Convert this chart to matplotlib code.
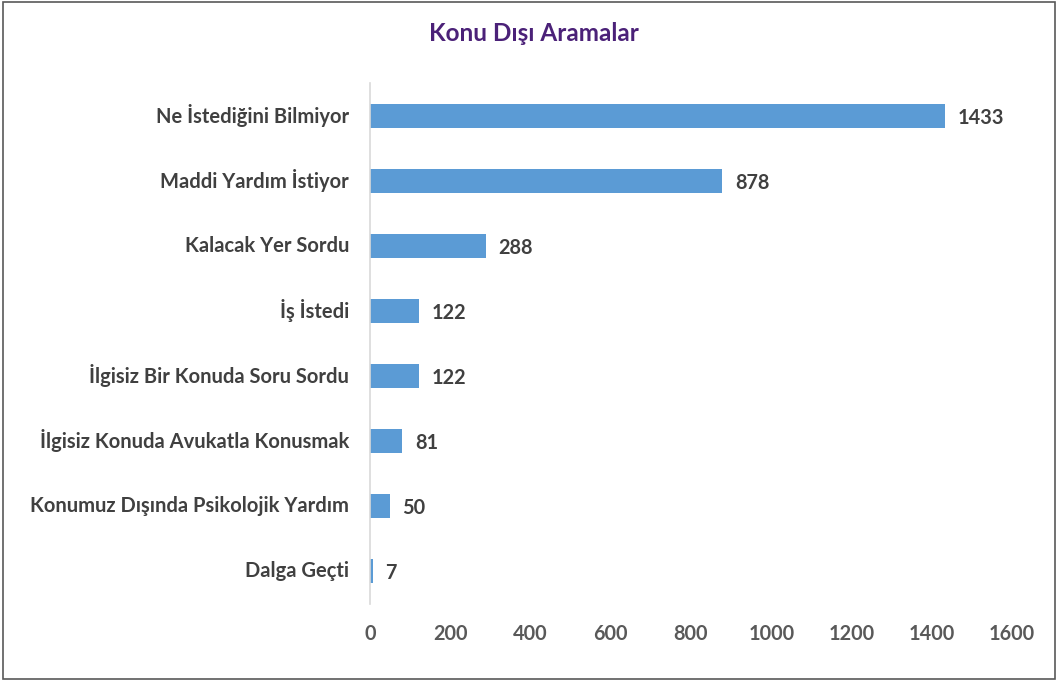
import matplotlib
matplotlib.use("Agg")
import matplotlib.pyplot as plt
from matplotlib.patches import Rectangle

categories = ["Ne İstediğini Bilmiyor", "Maddi Yardım İstiyor", "Kalacak Yer Sordu",
              "İş İstedi", "İlgisiz Bir Konuda Soru Sordu", "İlgisiz Konuda Avukatla Konusmak",
              "Konumuz Dışında Psikolojik Yardım", "Dalga Geçti"]
values = [1433, 878, 288, 122, 122, 81, 50, 7]
xticks = [0, 200, 400, 600, 800, 1000, 1200, 1400, 1600]
title = "Konu Dışı Aramalar"

plt.rcParams['font.family'] = ['Lato', 'DejaVu Sans']

fig = plt.figure(figsize=(10.58, 6.82), dpi=100)
ax = fig.add_axes([0.3497, 0.1151, 0.6068, 0.7625])

y = list(range(len(categories)))
ax.barh(y, values, height=0.36, color="#5B9BD5")
ax.set_ylim(len(categories) - 0.5, -0.5)
ax.set_xlim(0, 1600)
ax.set_yticks(y)
ax.set_yticklabels(categories, fontsize=14.5, fontweight="bold", color="#404040")
ax.set_xticks(xticks)
ax.set_xticklabels([str(t) for t in xticks], fontsize=14.3, fontweight="bold", color="#595959")
ax.tick_params(axis="both", length=0)
ax.tick_params(axis="y", pad=15)
ax.tick_params(axis="x", pad=15)
for lbl in ax.get_yticklabels():
    lbl.set_va("center")
for s in ["top", "right", "bottom"]:
    ax.spines[s].set_visible(False)
ax.spines["left"].set_color("#D9D9D9")
ax.spines["left"].set_linewidth(1.2)

for yi, v in zip(y, values):
    ax.annotate(str(v), xy=(v, yi), xytext=(9, 0), textcoords="offset points",
                va="center_baseline", ha="left", fontsize=14.3, fontweight="bold", color="#404040")

fig.text(0.505, 0.951, title, ha="center", va="center", fontsize=17.5,
         fontweight="bold", color="#4B2178")

fig.patches.append(Rectangle((0.003, 0.004), 0.994, 0.993, transform=fig.transFigure,
                             fill=False, edgecolor="#595959", linewidth=1.2))

fig.savefig("out.png", dpi=100)
